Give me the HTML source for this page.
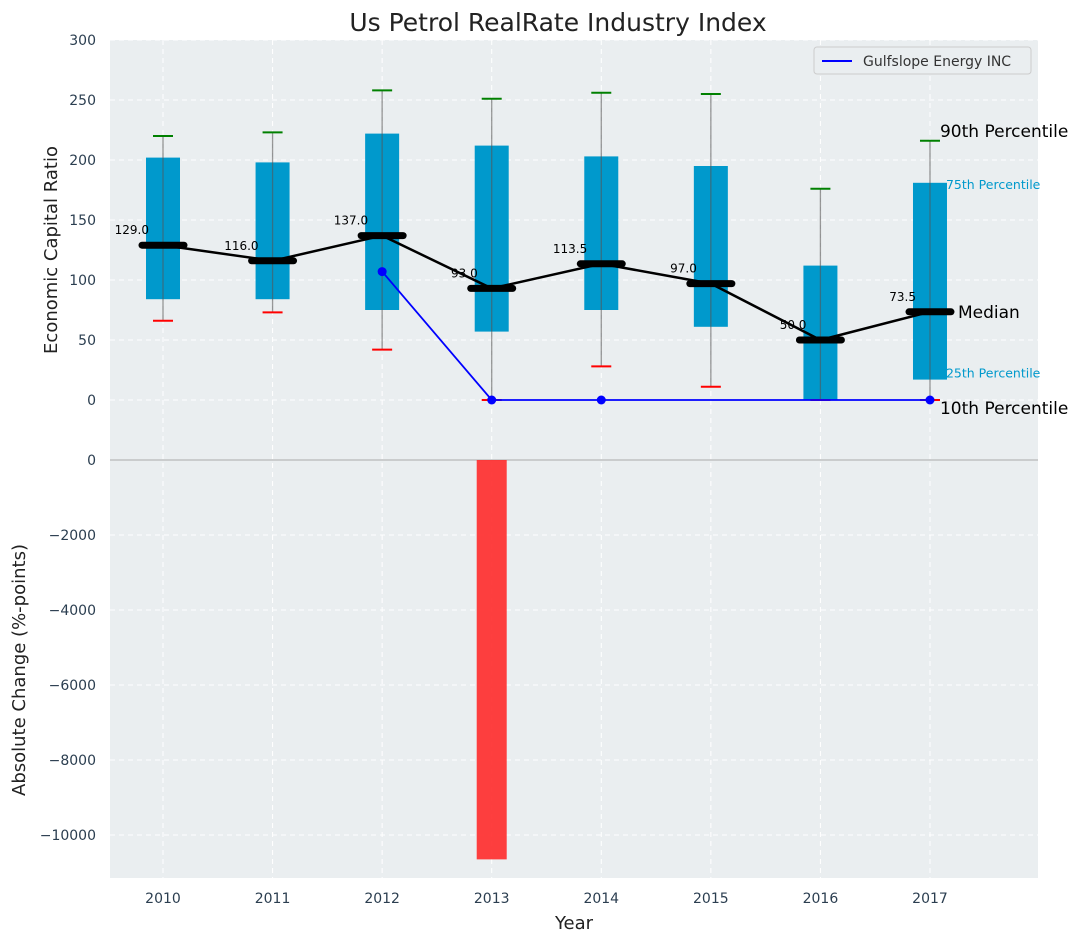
<!DOCTYPE html>
<html><head><meta charset="utf-8"><style>
body{margin:0;background:#fff;}
svg{display:block;font-family:"DejaVu Sans","Liberation Sans",sans-serif;}
</style></head><body>
<svg id="chart" width="1076" height="942" xmlns="http://www.w3.org/2000/svg">
<text x="558" y="31" font-size="25" text-anchor="middle" fill="#222">Us Petrol RealRate Industry Index</text>
<g id="g"></g>
</svg>
<script>
const years=[2010,2011,2012,2013,2014,2015,2016,2017];
const p10=[66,73,42,0,28,11,0,0];
const p25=[84,84,75,57,75,61,0,17];
const med=[129,116,137,93,113.5,97,50,73.5];
const p75=[202,198,222,212,203,195,112,181];
const p90=[220,223,258,251,256,255,176,216];
const gulfYears=[2012,2013,2014,2017];
const gulfVals=[107,0,0,0];
const changeYears=[2013];
const changeVals=[-10650];
const topTicks=[0,50,100,150,200,250,300];
const botTicks=[0,-2000,-4000,-6000,-8000,-10000];

const NS='http://www.w3.org/2000/svg';
const g=document.getElementById('g');
function el(t,a,txt){const e=document.createElementNS(NS,t);for(const k in a)e.setAttribute(k,a[k]);if(txt!==undefined)e.textContent=txt;g.appendChild(e);return e;}
const X0=110,X1=1038;
const x=v=>163+(v-2010)*109.57;
const yT=v=>400-v*1.2;
const yb=v=>460+(-v)*0.0375;

let e;
e=el('rect',{x:X0,y:40,width:X1-X0,height:420,fill:'#eaeef0'});

e=el('rect',{x:X0,y:460,width:X1-X0,height:418,fill:'#eaeef0'});

topTicks.forEach(t=>{el('line',{x1:X0,x2:X1,y1:yT(t),y2:yT(t),stroke:'#fff','stroke-dasharray':'5,4','stroke-width':1});
 e=el('text',{x:96,y:yT(t)+5,'font-size':14,'text-anchor':'end',fill:'#2b3e50'},t);
 });
botTicks.forEach(t=>{el('line',{x1:X0,x2:X1,y1:yb(t),y2:yb(t),stroke:'#fff','stroke-dasharray':'5,4','stroke-width':1});
 e=el('text',{x:96,y:yb(t)+5,'font-size':14,'text-anchor':'end',fill:'#2b3e50'},String(t).replace('-','\u2212'));
 });
years.forEach(yr=>{el('line',{x1:x(yr),x2:x(yr),y1:40,y2:878,stroke:'#fff','stroke-dasharray':'5,4'});
 e=el('text',{x:x(yr),y:903,'font-size':14,'text-anchor':'middle',fill:'#2b3e50'},yr);
 });
el('line',{x1:X0,x2:X1,y1:460,y2:460,stroke:'#aaa','stroke-width':1});
years.forEach((yr,i)=>{const cx=x(yr);
 e=el('rect',{x:cx-17,y:yT(p75[i]),width:34,height:yT(p25[i])-yT(p75[i]),fill:'#0099cc'});
 
 el('line',{x1:cx,x2:cx,y1:yT(p10[i]),y2:yT(p90[i]),stroke:'#555','stroke-opacity':0.6,'stroke-width':1.3});
 e=el('line',{x1:cx-10,x2:cx+10,y1:yT(p90[i]),y2:yT(p90[i]),stroke:'green','stroke-width':2});
 
 e=el('line',{x1:cx-10,x2:cx+10,y1:yT(p10[i]),y2:yT(p10[i]),stroke:'red','stroke-width':2});
 
});
e=el('polyline',{points:years.map((yr,i)=>x(yr)+','+yT(med[i])).join(' '),fill:'none',stroke:'#000','stroke-width':2.5});

years.forEach((yr,i)=>{const cx=x(yr),cy=yT(med[i]);
 e=el('line',{x1:cx-21,x2:cx+21,y1:cy,y2:cy,stroke:'#000','stroke-width':7,'stroke-linecap':'round'});
 
 e=el('text',{x:cx-14,y:cy-11,'font-size':12,'text-anchor':'end',fill:'#000'},med[i].toFixed(1));
 
});
e=el('polyline',{points:gulfYears.map((yr,i)=>x(yr)+','+yT(gulfVals[i])).join(' '),fill:'none',stroke:'#0000ff','stroke-width':1.8});

gulfYears.forEach((yr,i)=>{e=el('circle',{cx:x(yr),cy:yT(gulfVals[i]),r:4.5,fill:'#0000ff'});
 });
changeYears.forEach((yr,i)=>{const v=changeVals[i];
 e=el('rect',{x:x(yr)-15,y:460,width:30,height:yb(v)-460,fill:'#ff2a2a','fill-opacity':0.9});
 });
const lx=x(2017);
[['90th Percentile',lx+10,yT(p90[7])-4,17,'#000'],['75th Percentile',lx+16,yT(p75[7])+6,12.5,'#0099cc'],
 ['Median',lx+28,yT(med[7])+6,17,'#000'],['25th Percentile',lx+16,yT(p25[7])-2,12.5,'#0099cc'],
 ['10th Percentile',lx+10,yT(0)+14,17,'#000']].forEach(a=>{
 e=el('text',{x:a[1],y:a[2],'font-size':a[3],fill:a[4]},a[0]);
 });
e=el('rect',{x:814,y:47,width:217,height:27,rx:3,fill:'#eaeef0',stroke:'#ccc'});

el('line',{x1:822,x2:852,y1:61,y2:61,stroke:'#0000ff','stroke-width':2});
e=el('text',{x:863,y:66,'font-size':14,fill:'#333'},'Gulfslope Energy INC');

e=el('text',{x:574,y:929,'font-size':18,'text-anchor':'middle',fill:'#222'},'Year');

e=el('text',{x:0,y:0,'font-size':18,'text-anchor':'middle',fill:'#222',transform:'translate(57,250) rotate(-90)'},'Economic Capital Ratio');

e=el('text',{x:0,y:0,'font-size':18,'text-anchor':'middle',fill:'#222',transform:'translate(25,670) rotate(-90)'},'Absolute Change (%-points)');

</script>
</body></html>
